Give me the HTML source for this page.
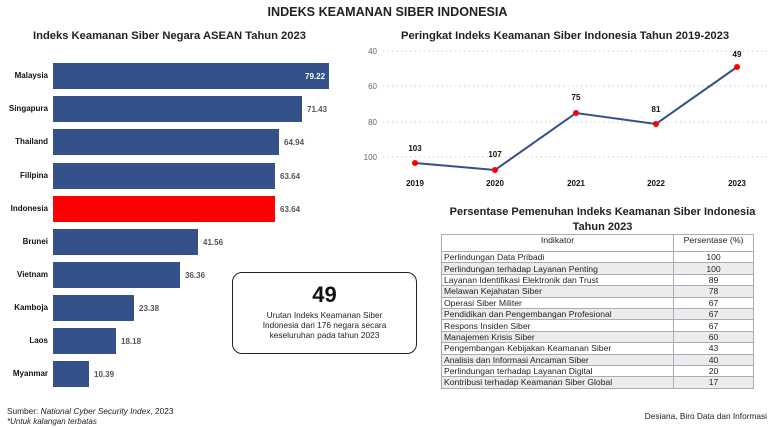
<!DOCTYPE html>
<html><head><meta charset="utf-8"><style>
body{margin:0;width:775px;height:428px;background:#fff;font-family:"Liberation Sans",sans-serif;position:relative;overflow:hidden}
.a{position:absolute;white-space:nowrap}
.bar{position:absolute;left:53px;height:26px;background:#34518a}
.lab{position:absolute;right:727px;font-size:8px;font-weight:bold;color:#111}
.val{position:absolute;font-size:8px;font-weight:bold;color:#555}
table{position:absolute;left:441px;top:234px;width:313px;border-collapse:collapse;font-size:8.6px;color:#222}
td{border:1px solid #aab;padding:0 2px;height:10.4px;line-height:10px}
td+td{text-align:center}
tr:nth-child(odd) td{background:#ececec}
tr.h td{background:#fff;height:16px;vertical-align:top;font-size:8.7px}
</style></head><body>
<div class="a" style="left:0;width:775px;text-align:center;top:5px;font-size:12.6px;font-weight:bold;color:#222">INDEKS KEAMANAN SIBER INDONESIA</div>
<div class="a" style="left:33px;top:30px;font-size:11.2px;font-weight:bold;color:#222">Indeks Keamanan Siber Negara ASEAN Tahun 2023</div>

<div class="bar" style="top:63px;width:276px"></div><div class="lab" style="top:71px">Malaysia</div><div class="val" style="top:72px;left:305px;color:#fff">79.22</div>
<div class="bar" style="top:96px;width:249px"></div><div class="lab" style="top:104px">Singapura</div><div class="val" style="top:105px;left:307px">71.43</div>
<div class="bar" style="top:129px;width:226px"></div><div class="lab" style="top:137px">Thailand</div><div class="val" style="top:138px;left:284px">64.94</div>
<div class="bar" style="top:163px;width:222px"></div><div class="lab" style="top:171px">Filipina</div><div class="val" style="top:172px;left:280px">63.64</div>
<div class="bar" style="top:196px;width:222px;background:#f00"></div><div class="lab" style="top:204px">Indonesia</div><div class="val" style="top:205px;left:280px">63.64</div>
<div class="bar" style="top:229px;width:145px"></div><div class="lab" style="top:237px">Brunei</div><div class="val" style="top:238px;left:203px">41.56</div>
<div class="bar" style="top:262px;width:127px"></div><div class="lab" style="top:270px">Vietnam</div><div class="val" style="top:271px;left:185px">36.36</div>
<div class="bar" style="top:295px;width:81px"></div><div class="lab" style="top:303px">Kamboja</div><div class="val" style="top:304px;left:139px">23.38</div>
<div class="bar" style="top:328px;width:63px"></div><div class="lab" style="top:336px">Laos</div><div class="val" style="top:337px;left:121px">18.18</div>
<div class="bar" style="top:361px;width:36px"></div><div class="lab" style="top:369px">Myanmar</div><div class="val" style="top:370px;left:94px">10.39</div>

<div class="a" style="left:232px;top:272px;width:185px;height:82px;border:1px solid #222;border-radius:10px;box-sizing:border-box;text-align:center">
<div style="font-size:22px;font-weight:bold;margin-top:9px;color:#111">49</div>
<div style="font-size:8.3px;line-height:10px;color:#222;margin-top:2px">Urutan Indeks Keamanan Siber<br>Indonesia dari 176 negara secara<br>keseluruhan pada tahun 2023</div></div>

<div class="a" style="left:401px;top:30px;font-size:11.2px;font-weight:bold;color:#222">Peringkat Indeks Keamanan Siber Indonesia Tahun 2019-2023</div>
<svg class="a" style="left:0;top:0" width="775" height="200" font-family="Liberation Sans" font-size="8">
<g stroke="#ccc" stroke-dasharray="1.5,3" stroke-width="1">
<line x1="383" x2="770" y1="51" y2="51"/><line x1="383" x2="770" y1="86" y2="86"/><line x1="383" x2="770" y1="122" y2="122"/><line x1="383" x2="770" y1="157" y2="157"/></g>
<g fill="#666" text-anchor="end"><text x="377" y="54">40</text><text x="377" y="89">60</text><text x="377" y="125">80</text><text x="377" y="160">100</text></g>
<polyline points="415,163 495,170 576,113 656,124 737,67" fill="none" stroke="#34518a" stroke-width="2"/>
<g fill="#f00"><circle cx="415" cy="163" r="3"/><circle cx="495" cy="170" r="3"/><circle cx="576" cy="113" r="3"/><circle cx="656" cy="124" r="3"/><circle cx="737" cy="67" r="3"/></g>
<g font-weight="bold" text-anchor="middle" fill="#111"><text x="415" y="151">103</text><text x="495" y="157">107</text><text x="576" y="100">75</text><text x="656" y="112">81</text><text x="737" y="57">49</text>
<text x="415" y="186">2019</text><text x="495" y="186">2020</text><text x="576" y="186">2021</text><text x="656" y="186">2022</text><text x="737" y="186">2023</text></g>
</svg>

<div class="a" style="left:430px;width:345px;text-align:center;top:205px;font-size:11px;font-weight:bold;line-height:15px;color:#222">Persentase Pemenuhan Indeks Keamanan Siber Indonesia<br>Tahun 2023</div>
<table>
<tr class="h"><td style="text-align:center;width:227px">Indikator</td><td>Persentase (%)</td></tr>
<tr><td>Perlindungan Data Pribadi</td><td>100</td></tr>
<tr><td>Perlindungan terhadap Layanan Penting</td><td>100</td></tr>
<tr><td>Layanan Identifikasi Elektronik dan Trust</td><td>89</td></tr>
<tr><td>Melawan Kejahatan Siber</td><td>78</td></tr>
<tr><td>Operasi Siber Militer</td><td>67</td></tr>
<tr><td>Pendidikan dan Pengembangan Profesional</td><td>67</td></tr>
<tr><td>Respons Insiden Siber</td><td>67</td></tr>
<tr><td>Manajemen Krisis Siber</td><td>60</td></tr>
<tr><td>Pengembangan Kebijakan Keamanan Siber</td><td>43</td></tr>
<tr><td>Analisis dan Informasi Ancaman Siber</td><td>40</td></tr>
<tr><td>Perlindungan terhadap Layanan Digital</td><td>20</td></tr>
<tr><td>Kontribusi terhadap Keamanan Siber Global</td><td>17</td></tr>
</table>

<div class="a" style="left:7px;top:406px;font-size:8.3px;color:#222">Sumber: <i>National Cyber Security Index</i>, 2023</div>
<div class="a" style="left:7px;top:417px;font-size:8px;color:#222;font-style:italic">*Untuk kalangan terbatas</div>
<div class="a" style="right:8px;top:411px;font-size:8.3px;color:#222">Desiana, Biro Data dan Informasi</div>
</body></html>
